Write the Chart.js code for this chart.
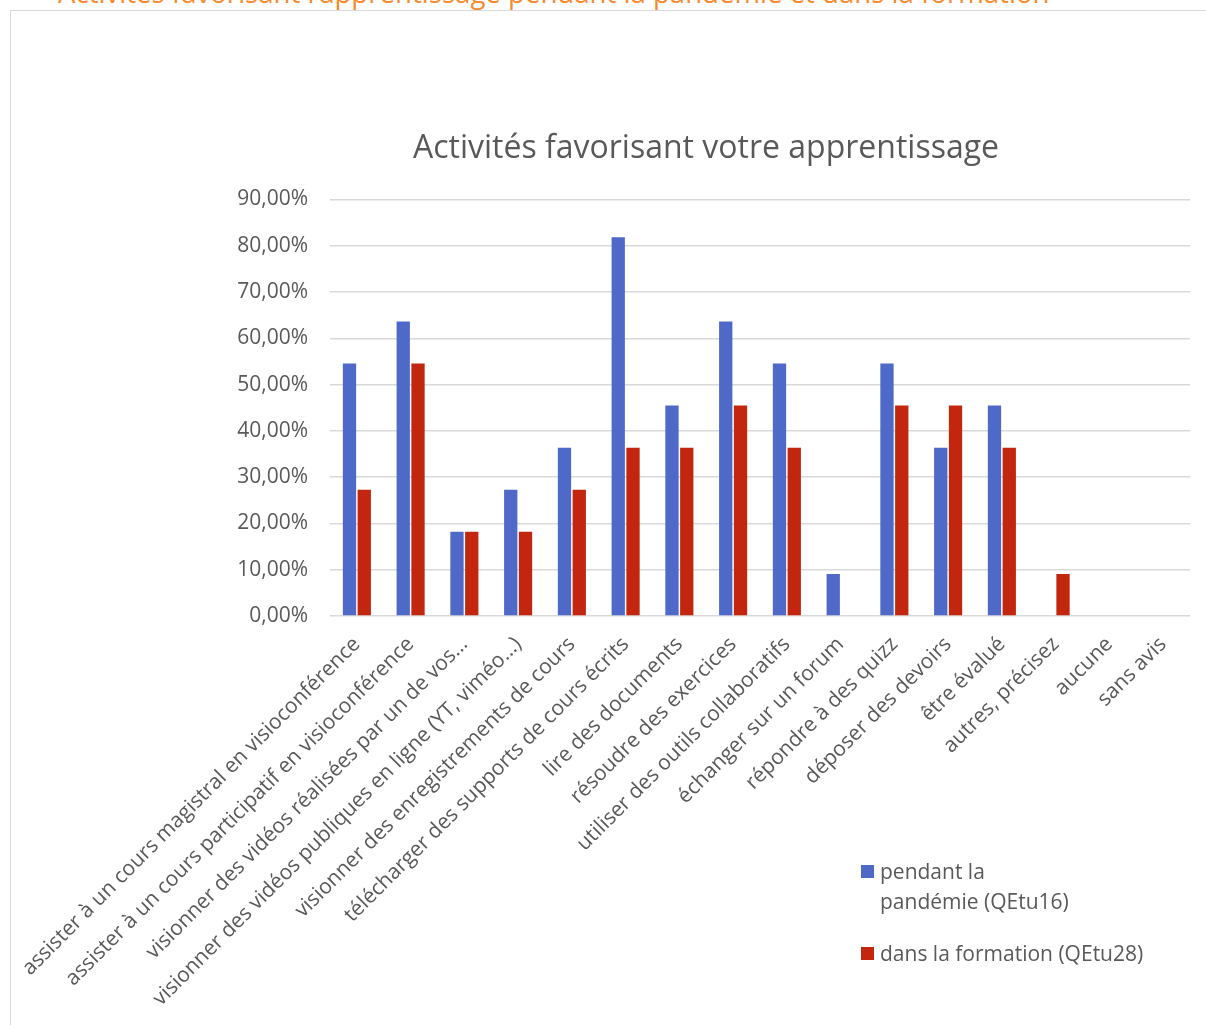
<!DOCTYPE html>
<html>
<head>
<meta charset="utf-8">
<script src="https://cdn.jsdelivr.net/npm/chart.js@4.4.1/dist/chart.umd.min.js"></script>
<style>
  html, body { margin: 0; padding: 0; background: #fff; overflow: hidden; }
  body { width: 1206px; height: 1025px; position: relative; font-family: "Open Sans", sans-serif; }
  #topTitle { position: absolute; left: 58px; top: -22px; font-size: 27.6px; line-height: 28px; color: #f58a2e; white-space: nowrap; }
  #frame { position: absolute; left: 10px; top: 10px; width: 1300px; height: 1100px; border: 1px solid #d9d9d9; box-sizing: border-box; }
  #chartBox { position: absolute; left: 11px; top: 11px; width: 1195px; height: 1014px; }
  #legend { position: absolute; left: 861px; top: 856px; margin: 0; padding: 0; list-style: none; color: #595959; font-size: 21px; line-height: 30px; }
  #legend li { position: relative; padding-left: 19px; margin-bottom: 22px; }
  #legend li:first-child .txt { display: inline-block; max-width: 195px; }
  #legend .sw { position: absolute; left: 0; top: 9px; width: 13px; height: 13px; }
</style>
</head>
<body>
<div id="topTitle">Activités favorisant l’apprentissage pendant la pandémie et dans la formation</div>
<div id="frame"></div>
<div id="chartBox"><canvas id="c" width="1195" height="1014"></canvas></div>
<ul id="legend"></ul>
<script>
const categories = [
  "assister à un cours magistral en visioconférence",
  "assister à un cours participatif en visioconférence",
  "visionner des vidéos réalisées par un de vos…",
  "visionner des vidéos publiques en ligne (YT, viméo…)",
  "visionner des enregistrements de cours",
  "télécharger des supports de cours écrits",
  "lire des documents",
  "résoudre des exercices",
  "utiliser des outils collaboratifs",
  "échanger sur un forum",
  "répondre à des quizz",
  "déposer des devoirs",
  "être évalué",
  "autres, précisez",
  "aucune",
  "sans avis"
];
const seriesNames = ["pendant la pandémie (QEtu16)", "dans la formation (QEtu28)"];
const pandemie = [54.55, 63.64, 18.18, 27.27, 36.36, 81.82, 45.45, 63.64, 54.55, 9.09, 54.55, 36.36, 45.45, 0, 0, 0];
const formation = [27.27, 54.55, 18.18, 18.18, 27.27, 36.36, 36.36, 45.45, 36.36, 0, 45.45, 45.45, 36.36, 9.09, 0, 0];
const yTicks = [0, 10, 20, 30, 40, 50, 60, 70, 80, 90];
const chartTitle = "Activités favorisant votre apprentissage";

const textColor = "#595959";
const fontFamily = "'Open Sans', sans-serif";
const colors = ["#4f69c9", "#c3260f"];

const chart = new Chart(document.getElementById("c"), {
  type: "bar",
  data: {
    labels: categories,
    datasets: [
      { label: seriesNames[0], data: pandemie, backgroundColor: colors[0], borderWidth: 0 },
      { label: seriesNames[1], data: formation, backgroundColor: colors[1], borderWidth: 0 }
    ]
  },
  options: {
    responsive: false,
    animation: false,
    devicePixelRatio: 1,
    categoryPercentage: 0.55,
    barPercentage: 0.9,
    layout: { padding: { left: 211, right: 16, top: 0, bottom: 0 } },
    plugins: {
      legend: { display: false },
      tooltip: { enabled: false },
      title: {
        display: true,
        text: chartTitle,
        color: textColor,
        font: { family: fontFamily, size: 32, weight: "normal" },
        padding: { top: 119, bottom: 31 }
      }
    },
    scales: {
      x: {
        grid: { display: false, drawTicks: false },
        border: { display: false },
        ticks: {
          color: textColor,
          font: { family: fontFamily, size: 21 },
          minRotation: 45,
          maxRotation: 45,
          autoSkip: false,
          padding: 16
        },
        afterFit: (s) => { s.height = 1014 - 605; s.paddingLeft = 0; s.paddingRight = 0; }
      },
      y: {
        min: 0,
        max: 90,
        afterBuildTicks: (s) => { s.ticks = yTicks.map(v => ({ value: v })); },
        grid: { color: "#d9d9d9", lineWidth: 1.5, drawTicks: false },
        border: { display: false },
        ticks: {
          color: textColor,
          font: { family: fontFamily, size: 21 },
          padding: 22,
          callback: (v) => v.toFixed(2).replace(".", ",") + "%"
        },
        afterFit: (s) => { s.width = 108; }
      }
    }
  }
});

const legendEl = document.getElementById("legend");
chart.data.datasets.forEach((ds) => {
  const li = document.createElement("li");
  const sw = document.createElement("span");
  sw.className = "sw";
  sw.style.background = ds.backgroundColor;
  const txt = document.createElement("span");
  txt.className = "txt";
  txt.textContent = ds.label;
  li.appendChild(sw);
  li.appendChild(txt);
  legendEl.appendChild(li);
});
</script>
</body>
</html>
